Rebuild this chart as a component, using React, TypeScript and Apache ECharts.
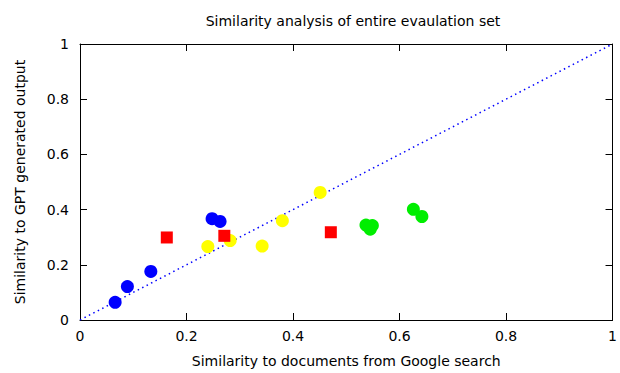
import React, { useEffect, useRef } from "react";
import * as echarts from "echarts";

const blueGroup: [number, number][] = [
  [0.066, 0.064],
  [0.089, 0.121],
  [0.133, 0.176],
  [0.248, 0.367],
  [0.263, 0.357],
];
const redGroup: [number, number][] = [
  [0.163, 0.299],
  [0.271, 0.305],
  [0.471, 0.318],
];
const yellowGroup: [number, number][] = [
  [0.24, 0.266],
  [0.282, 0.288],
  [0.342, 0.268],
  [0.38, 0.36],
  [0.451, 0.462],
];
const greenGroup: [number, number][] = [
  [0.537, 0.344],
  [0.549, 0.342],
  [0.545, 0.329],
  [0.626, 0.401],
  [0.642, 0.375],
];
const diagonal: [number, number][] = [
  [0, 0],
  [1, 1],
];

const title = "Similarity analysis of entire evaulation set";
const xLabel = "Similarity to documents from Google search";
const yLabel = "Similarity to GPT generated output";

const FONT = "DejaVu Sans";

export default function App() {
  const ref = useRef<HTMLDivElement>(null);
  useEffect(() => {
    if (!ref.current) return;
    const chart = echarts.init(ref.current, null, { renderer: "svg" });
    const axisCommon = {
      type: "value" as const,
      min: 0,
      max: 1,
      interval: 0.2,
      splitLine: { show: false },
      axisLine: { show: true, onZero: false, lineStyle: { color: "#000", width: 1 } },
      axisTick: { show: true, inside: true, length: 7, lineStyle: { color: "#000" } },
    };
    chart.setOption({
      animation: false,
      backgroundColor: "#fff",
      title: {
        text: title,
        left: 348,
        top: 9,
        textAlign: "center",
        textStyle: { fontFamily: FONT, fontSize: 14, fontWeight: "normal", color: "#000" },
      },
      grid: { left: 80, right: 4, top: 44, bottom: 49 },
      xAxis: [
        {
          ...axisCommon,
          position: "bottom",
          name: xLabel,
          nameLocation: "middle",
          nameGap: 34,
          nameTextStyle: { fontFamily: FONT, fontSize: 14, color: "#000" },
          axisLabel: { fontFamily: FONT, fontSize: 14, color: "#000", margin: 9 },
        },
        {
          ...axisCommon,
          position: "top",
          axisLabel: { show: false },
        },
      ],
      yAxis: [
        {
          ...axisCommon,
          position: "left",
          name: yLabel,
          nameLocation: "middle",
          nameGap: 53,
          nameRotate: 90,
          nameTextStyle: { fontFamily: FONT, fontSize: 14, color: "#000" },
          axisLabel: { fontFamily: FONT, fontSize: 14, color: "#000", margin: 11 },
        },
        {
          ...axisCommon,
          position: "right",
          axisLabel: { show: false },
        },
      ],
      series: [
        {
          type: "line",
          data: diagonal,
          symbol: "none",
          lineStyle: { color: "#0000ff", width: 1.5, type: [1.5, 3.5] },
          z: 1,
        },
        {
          type: "scatter",
          data: blueGroup,
          symbol: "circle",
          symbolSize: 13,
          itemStyle: { color: "#0000ff", opacity: 1 },
          z: 2,
        },
        {
          type: "scatter",
          data: redGroup,
          symbol: "rect",
          symbolSize: 12,
          itemStyle: { color: "#ff0000", opacity: 1 },
          z: 3,
        },
        {
          type: "scatter",
          data: yellowGroup,
          symbol: "circle",
          symbolSize: 13,
          itemStyle: { color: "#ffff00", opacity: 1 },
          z: 2,
        },
        {
          type: "scatter",
          data: greenGroup,
          symbol: "circle",
          symbolSize: 13,
          itemStyle: { color: "#00ee00", opacity: 1 },
          z: 2,
        },
      ],
    });
    return () => chart.dispose();
  }, []);
  return <div ref={ref} style={{ width: 620, height: 373, position: "fixed", left: 0, top: 0 }} />;
}
